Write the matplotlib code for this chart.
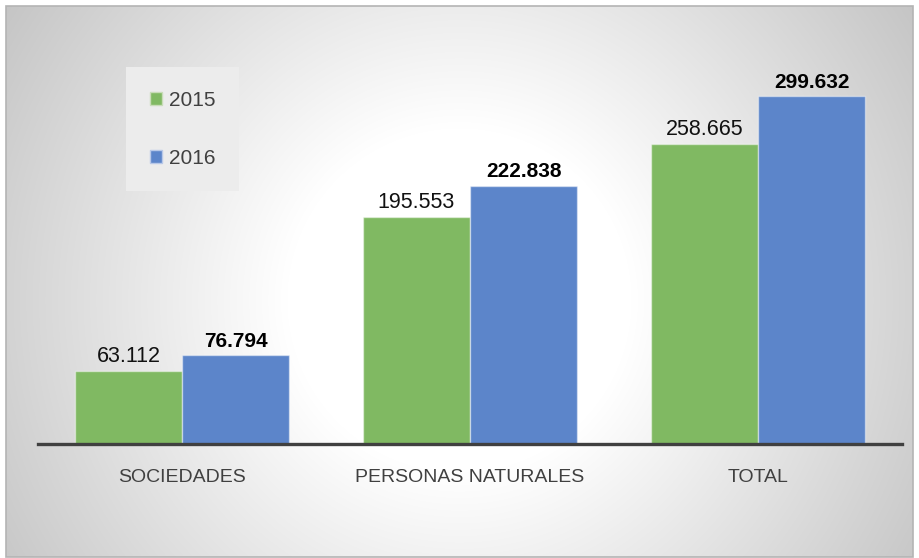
import numpy as np
import matplotlib
matplotlib.use("Agg")
import matplotlib.pyplot as plt
from matplotlib.patches import Patch, Rectangle

plt.rcParams["font.family"] = ["Liberation Sans", "DejaVu Sans"]

categories = ["SOCIEDADES", "PERSONAS NATURALES", "TOTAL"]
years = ["2015", "2016"]
values_2015 = [63.112, 195.553, 258.665]
values_2016 = [76.794, 222.838, 299.632]
labels_2015 = ["63.112", "195.553", "258.665"]
labels_2016 = ["76.794", "222.838", "299.632"]

green = "#80B962"
blue = "#5C85CA"

W, H = 919, 558
fig = plt.figure(figsize=(W / 100, H / 100), dpi=100)
fig.patch.set_facecolor("white")

# radial grey background
bg = fig.add_axes([0, 0, 1, 1], zorder=0)
yy, xx = np.mgrid[0:H, 0:W]
r = np.hypot(xx - 459, yy - 300)
shade = np.clip((282 - 0.157 * r) / 255.0, 0, 1)
img = np.dstack([shade, shade, shade])
x0, x1, y0, y1 = 6, 913, 6, 557
img[:, :x0] = 1
img[:, x1:] = 1
img[:y0, :] = 1
img[y1:, :] = 1
bg.imshow(img, extent=[0, W, H, 0], aspect="auto", interpolation="bilinear")
bg.add_patch(Rectangle((x0, y0), x1 - x0, y1 - y0, fill=False,
                       edgecolor="#b4b4b4", linewidth=1.2))
bg.set_xlim(0, W)
bg.set_ylim(H, 0)
bg.axis("off")

ax = fig.add_axes([38 / W, 1 - 444 / H, 864 / W, 406 / H], zorder=1)
ax.patch.set_alpha(0)

x = np.arange(len(categories))
width = 0.372
b1 = ax.bar(x - width / 2, values_2015, width, color=green,
            edgecolor=(1, 1, 1, 0.45), linewidth=1, label=years[0])
b2 = ax.bar(x + width / 2, values_2016, width, color=blue,
            edgecolor=(1, 1, 1, 0.45), linewidth=1, label=years[1])

for bar, lab in zip(b1, labels_2015):
    ax.annotate(lab, (bar.get_x() + bar.get_width() / 2, bar.get_height()),
                xytext=(0, 3), textcoords="offset points", ha="center", va="bottom",
                fontsize=15.5, color="#111111")
for bar, lab in zip(b2, labels_2016):
    ax.annotate(lab, (bar.get_x() + bar.get_width() / 2, bar.get_height()),
                xytext=(0, 3), textcoords="offset points", ha="center", va="bottom",
                fontsize=15, fontweight="bold", color="#000000")

ax.set_xlim(-0.5, 2.5)
ax.set_ylim(0, 350)
ax.set_xticks(x)
ax.set_xticklabels(categories, fontsize=14, color="#404040")
ax.tick_params(axis="x", length=0, pad=18)
ax.set_yticks([])
for side in ["top", "right", "left"]:
    ax.spines[side].set_visible(False)
ax.spines["bottom"].set_color("#404040")
ax.spines["bottom"].set_linewidth(2.4)

handles = [Patch(facecolor=green, edgecolor="#c8dcb8", label=years[0]),
           Patch(facecolor=blue, edgecolor="#b8c8e8", label=years[1])]
leg = ax.legend(handles=handles, loc="upper left",
                bbox_to_anchor=(126 / W, 1 - 67 / H), bbox_transform=fig.transFigure,
                fontsize=15, frameon=True, fancybox=False, borderpad=1.15,
                handlelength=0.6, handleheight=0.6, handletextpad=0.3,
                labelspacing=1.85, borderaxespad=0)
leg.get_frame().set_facecolor("#ececec")
leg.get_frame().set_edgecolor("none")
leg.get_frame().set_alpha(1)
for t in leg.get_texts():
    t.set_color("#404040")

fig.savefig("out.png", dpi=100)
